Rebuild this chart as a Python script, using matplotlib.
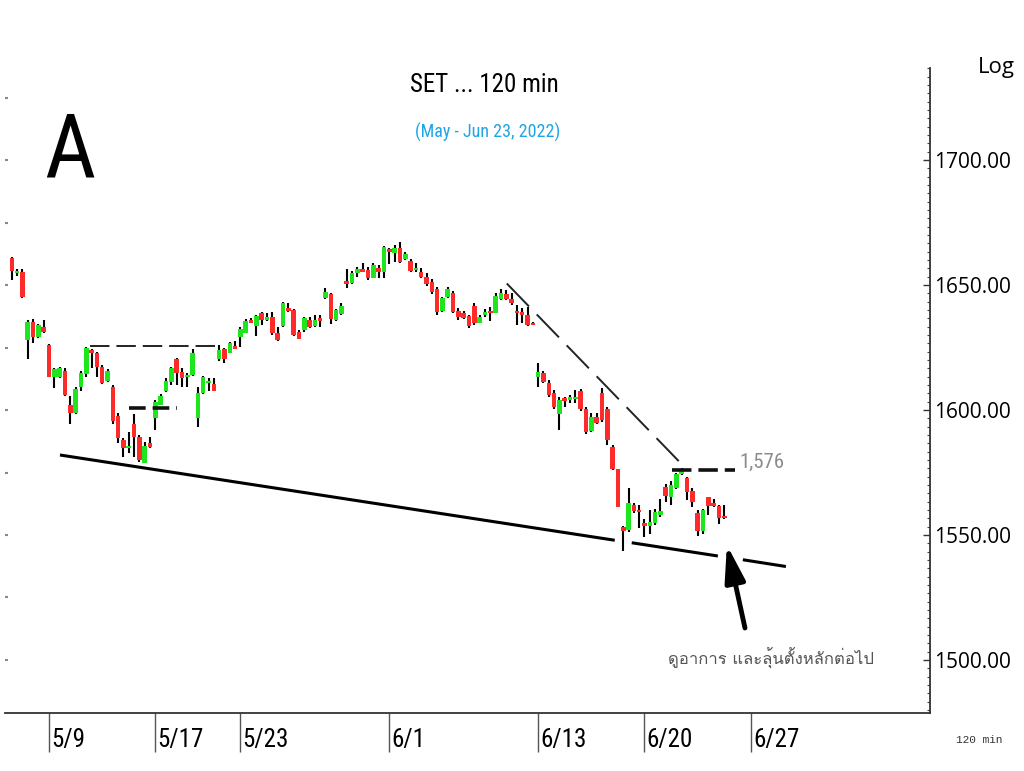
import matplotlib
matplotlib.use("Agg")
import matplotlib.pyplot as plt
from matplotlib import font_manager as fm
from matplotlib.ft2font import FT2Font
from matplotlib.ticker import FixedLocator, MultipleLocator, NullFormatter, FuncFormatter
import matplotlib.transforms as mtransforms

plt.rcParams["lines.scale_dashes"] = False

# ---------------- data (SET index, 120-min bars, 5 May - 23 Jun 2022) ----------------
opens = [1660.7, 1654.7, 1655.3, 1628.0, 1635.3, 1629.1, 1633.1, 1626.0, 1613.1, 1613.3,
         1615.7, 1602.0, 1598.7, 1609.1, 1614.4, 1624.0, 1622.7, 1617.3, 1611.7, 1609.3,
         1597.7, 1588.0, 1584.7, 1594.4, 1589.1, 1578.7, 1586.7, 1596.7, 1602.0, 1607.7,
         1611.3, 1620.3, 1615.3, 1613.1, 1614.0, 1596.7, 1606.7, 1610.9, 1610.4, 1620.3,
         1624.3, 1622.9, 1625.6, 1629.3, 1630.9, 1636.0, 1633.6, 1638.9, 1636.0, 1637.1,
         1630.7, 1633.6, 1640.9, 1640.0, 1631.1, 1632.0, 1636.0, 1633.7, 1636.7, 1644.9,
         1646.3, 1636.0, 1638.3, 1651.6, 1650.7, 1654.7, 1656.4, 1656.0, 1652.9, 1656.7,
         1655.1, 1664.4, 1662.7, 1664.9, 1660.4, 1659.6, 1656.0, 1655.3, 1653.3, 1651.2,
         1648.3, 1639.7, 1645.1, 1646.7, 1639.6, 1638.9, 1637.6, 1641.6, 1634.9, 1638.0,
         1639.3, 1638.9, 1644.3, 1646.3, 1644.3, 1639.7, 1639.3, 1638.0, 1634.9, 1613.3,
         1614.7, 1610.9, 1606.7, 1598.4, 1604.7, 1604.0, 1604.3, 1607.7, 1600.3, 1591.7,
         1597.3, 1606.7, 1600.3, 1585.3, 1576.3, 1553.1, 1552.0, 1562.0, 1560.0, 1554.9,
         1553.6, 1554.7, 1558.0, 1569.3, 1565.3, 1568.7, 1574.4, 1572.7, 1567.7, 1558.9,
         1551.7, 1565.1, 1562.7, 1561.6, 1557.3]
highs = [1661.1, 1656.4, 1656.4, 1636.0, 1636.3, 1634.4, 1636.0, 1626.4, 1616.7, 1617.3,
         1616.7, 1605.7, 1609.3, 1615.7, 1625.3, 1624.4, 1623.3, 1618.0, 1616.4, 1610.0,
         1598.7, 1588.7, 1591.3, 1598.4, 1590.0, 1587.3, 1589.3, 1604.0, 1606.4, 1612.7,
         1617.3, 1620.7, 1616.9, 1614.7, 1624.3, 1609.3, 1613.6, 1612.7, 1612.7, 1626.0,
         1624.7, 1627.3, 1627.7, 1633.1, 1636.3, 1636.7, 1638.0, 1639.3, 1638.7, 1639.3,
         1633.3, 1643.3, 1642.7, 1640.4, 1632.0, 1637.3, 1637.3, 1638.0, 1638.0, 1648.9,
         1646.7, 1640.4, 1642.7, 1656.4, 1655.6, 1657.3, 1658.7, 1657.3, 1658.7, 1658.0,
         1665.7, 1664.9, 1666.0, 1667.1, 1663.1, 1660.4, 1658.7, 1656.7, 1654.7, 1652.5,
         1649.1, 1645.3, 1649.1, 1647.7, 1640.7, 1639.7, 1638.0, 1642.9, 1638.0, 1640.3,
         1641.1, 1646.7, 1648.3, 1648.0, 1646.7, 1642.0, 1640.7, 1641.1, 1635.3, 1618.7,
         1615.7, 1612.0, 1608.0, 1605.3, 1605.3, 1606.0, 1608.0, 1608.3, 1601.1, 1598.9,
         1598.7, 1608.7, 1601.1, 1586.0, 1576.4, 1553.6, 1568.7, 1562.9, 1562.0, 1556.3,
         1560.0, 1560.3, 1564.3, 1570.4, 1571.7, 1574.9, 1576.7, 1573.1, 1568.7, 1560.0,
         1560.3, 1565.3, 1564.3, 1562.0, 1562.0]
lows = [1652.0, 1653.6, 1644.8, 1620.3, 1626.7, 1628.8, 1630.7, 1613.1, 1608.7, 1612.8,
        1605.7, 1594.4, 1598.4, 1607.7, 1613.1, 1616.7, 1613.3, 1610.4, 1611.3, 1594.4,
        1586.9, 1581.3, 1582.7, 1581.1, 1579.3, 1578.7, 1584.7, 1592.0, 1602.0, 1607.3,
        1610.0, 1610.0, 1609.3, 1609.3, 1613.6, 1593.3, 1606.4, 1607.7, 1607.6, 1619.7,
        1618.7, 1622.8, 1624.4, 1625.3, 1630.7, 1634.7, 1629.6, 1634.0, 1635.8, 1630.0,
        1627.8, 1633.3, 1639.3, 1629.7, 1628.4, 1631.1, 1632.7, 1633.3, 1633.3, 1644.4,
        1634.3, 1635.6, 1638.0, 1648.7, 1650.3, 1653.3, 1655.1, 1652.0, 1652.7, 1652.7,
        1652.9, 1658.3, 1659.1, 1658.7, 1660.0, 1655.3, 1655.1, 1652.9, 1649.6, 1646.5,
        1638.0, 1639.3, 1644.7, 1639.0, 1636.0, 1636.3, 1632.7, 1634.0, 1634.7, 1637.3,
        1635.7, 1638.7, 1644.0, 1644.0, 1642.0, 1634.0, 1634.7, 1633.6, 1633.9, 1609.3,
        1610.7, 1605.3, 1600.3, 1592.0, 1601.3, 1602.7, 1602.7, 1599.7, 1590.4, 1591.3,
        1594.4, 1595.3, 1586.0, 1576.0, 1561.2, 1543.5, 1551.3, 1558.7, 1552.7, 1549.4,
        1550.4, 1554.0, 1557.3, 1563.3, 1562.0, 1568.3, 1574.0, 1564.0, 1561.1, 1549.6,
        1550.4, 1558.0, 1561.1, 1554.4, 1556.3]
closes = [1655.7, 1655.7, 1645.1, 1635.3, 1629.1, 1634.0, 1631.1, 1613.3, 1616.4, 1616.7,
          1606.0, 1598.7, 1608.4, 1614.9, 1624.7, 1622.7, 1617.3, 1610.7, 1615.7, 1595.7,
          1588.7, 1584.7, 1585.7, 1589.1, 1580.0, 1585.7, 1585.3, 1603.3, 1605.6, 1611.6,
          1616.9, 1614.7, 1612.7, 1614.0, 1622.7, 1606.7, 1613.1, 1611.7, 1607.7, 1624.0,
          1620.3, 1626.9, 1624.5, 1632.3, 1635.6, 1634.9, 1637.6, 1636.0, 1637.3, 1630.7,
          1628.0, 1642.7, 1639.6, 1630.0, 1628.4, 1636.7, 1633.3, 1636.0, 1635.6, 1647.3,
          1636.4, 1640.0, 1641.7, 1650.3, 1654.7, 1656.4, 1655.3, 1652.9, 1658.0, 1655.3,
          1665.3, 1663.1, 1664.7, 1659.1, 1662.3, 1655.6, 1656.9, 1653.3, 1650.4, 1647.3,
          1639.3, 1644.7, 1648.3, 1639.3, 1637.3, 1636.7, 1633.6, 1634.9, 1637.1, 1639.3,
          1638.7, 1645.6, 1646.7, 1644.3, 1642.7, 1638.7, 1638.0, 1634.0, 1634.0, 1615.3,
          1611.3, 1606.0, 1601.1, 1604.0, 1603.7, 1605.3, 1605.1, 1600.3, 1591.3, 1597.3,
          1594.7, 1596.0, 1588.0, 1576.3, 1561.3, 1551.7, 1562.9, 1559.7, 1559.2, 1553.6,
          1555.3, 1559.3, 1559.7, 1565.6, 1570.0, 1574.4, 1576.0, 1567.3, 1563.3, 1551.7,
          1560.0, 1561.6, 1561.6, 1556.7, 1556.7]

date_tick_bars = [7, 27, 43, 71, 99, 119, 139]
date_tick_labels = ["5/9", "5/17", "5/23", "6/1", "6/13", "6/20", "6/27"]
price_ticks = [1500, 1550, 1600, 1650, 1700]
left_dot_ticks = [1500, 1525, 1550, 1575, 1600, 1625, 1650, 1675, 1700, 1725]

# hand-drawn annotations (bar index, price)
support_segments = [[(9.06, 1582.0), (113.4, 1547.9)],
                    [(116.6, 1546.9), (132.8, 1541.6)],
                    [(137.5, 1540.1), (145.6, 1537.4)]]
neckline_x = [14.7, 38.6]
neckline_y = [1625.7, 1625.7]
midline_x = [22.0, 31.1]
midline_y = [1600.8, 1600.8]
resist_x = [93.1, 125.6]
resist_y = [1650.6, 1579.2]
level_value = 1576
level_x = [124.1, 136.0]
level_label = "1,576"
arrow_tail = (137.9, 1512.8)
arrow_head = (134.5, 1546.0)
note_text = "ดูอาการ และลุ้นตั้งหลักต่อไป"
title_text = "SET ... 120 min"
subtitle_text = "(May - Jun 23, 2022)"

# ---------------- fonts ----------------
names = {f.name for f in fm.fontManager.ttflist}


def first_available(cands, default="DejaVu Sans"):
    for c in cands:
        if c in names:
            return c
    return default


def find_thai_family(sample):
    seen = set()
    paths = [f.fname for f in fm.fontManager.ttflist]
    try:
        paths += list(fm.findSystemFonts())
    except Exception:
        pass
    for p in paths:
        if p in seen:
            continue
        seen.add(p)
        try:
            cmap = FT2Font(p).get_charmap()
        except Exception:
            continue
        if all(ord(ch) in cmap for ch in sample if ch != " "):
            try:
                fm.fontManager.addfont(p)
                return fm.FontProperties(fname=p).get_name()
            except Exception:
                continue
    return None


narrow = first_available(["Liberation Sans Narrow", "Arial Narrow", "Roboto Condensed"], None)
if narrow is None:
    narrow_kw = dict(family="DejaVu Sans", fontstretch="condensed")
else:
    narrow_kw = dict(family=narrow)
ui_font = first_available(["Open Sans", "Noto Sans", "Lato"])
mono_font = first_available(["Liberation Mono", "DejaVu Sans Mono"])
thai = find_thai_family(note_text)
thai_families = [thai, "DejaVu Sans"] if thai else ["DejaVu Sans"]

# ---------------- figure ----------------
W, H = 1024, 771
fig = plt.figure(figsize=(W / 100, H / 100), dpi=100)
ax = fig.add_axes([5 / W, 1 - 713 / H, 925 / W, 645 / H])
ax.set_xlim(-1.28, 172.7)
ax.set_ylim(1478.8, 1736.8)

RED = "#ff2a2a"
GREEN = "#1ee61e"
idx = list(range(len(opens)))
ax.vlines(idx, lows, highs, color="black", linewidth=1.5, zorder=2)
bottoms, heights, colors = [], [], []
for o, c in zip(opens, closes):
    lo, hi = min(o, c), max(o, c)
    h = max(hi - lo, 0.8)
    bottoms.append(lo)
    heights.append(h)
    colors.append(GREEN if c > o else RED)
ax.bar(idx, heights, bottom=bottoms, width=0.86, color=colors, edgecolor="none", zorder=3)

# annotations
for seg in support_segments:
    (x0, y0), (x1, y1) = seg
    ax.plot([x0, x1], [y0, y1], color="black", linewidth=2.2, solid_capstyle="butt", zorder=4)
ax.plot(neckline_x, neckline_y, color="#222222", linewidth=1.4, dashes=(14, 5), zorder=4)
ax.plot(midline_x, midline_y, color="#111111", linewidth=2.6, dashes=(12, 5), zorder=4)
ax.plot(resist_x, resist_y, color="#222222", linewidth=1.4, dashes=(23, 8), zorder=4)
ax.plot(level_x, [level_value, level_value], color="#111111", linewidth=2.6, dashes=(14, 5), zorder=4)
ax.text(level_x[1] + 0.9, level_value + 3.0, level_label, color="#8c8c8c", fontsize=15,
        ha="left", va="center", **narrow_kw)
ax.annotate("", xy=arrow_head, xytext=arrow_tail,
            arrowprops=dict(arrowstyle="-|>,head_length=1.0,head_width=0.28", color="black",
                            lw=3.5, shrinkA=0, shrinkB=0, mutation_scale=22))
ax.text(142.8, 1500.5, note_text, color="#555555", fontsize=12, ha="center", va="center",
        family=thai_families)

# spines
for s in ["top", "left"]:
    ax.spines[s].set_visible(False)
ax.spines["bottom"].set_color("#333333")
ax.spines["right"].set_color("#333333")
ax.spines["bottom"].set_linewidth(1.3)
ax.spines["right"].set_linewidth(1.3)

# y axis on right
ax.yaxis.tick_right()
ax.yaxis.set_major_locator(FixedLocator(price_ticks))
ax.yaxis.set_major_formatter(FuncFormatter(lambda v, p: f"{v:.2f}"))
ax.yaxis.set_minor_locator(MultipleLocator(50 / 15))
ax.tick_params(axis="y", which="major", direction="in", length=5, width=1, color="#333333",
               pad=3, labelsize=15)
ax.tick_params(axis="y", which="minor", direction="in", length=2.5, width=0.8, color="#444444")
for lab in ax.get_yticklabels():
    lab.set_family(ui_font)

# left faint tick dots
sec = ax.secondary_yaxis("left")
sec.set_yticks(left_dot_ticks)
sec.yaxis.set_major_formatter(NullFormatter())
sec.tick_params(axis="y", direction="in", length=2, width=1.5, color="#888888")
sec.spines["left"].set_visible(False)

# x axis
ax.xaxis.set_major_locator(FixedLocator(date_tick_bars))
ax.xaxis.set_major_formatter(NullFormatter())
ax.tick_params(axis="x", which="major", direction="out", length=28, width=1, color="#555555")
lab_tr = mtransforms.offset_copy(ax.get_xaxis_transform(), fig=fig, x=1.5, y=-19.5, units="points")
for b, t in zip(date_tick_bars, date_tick_labels):
    ax.text(b, 0, t, transform=lab_tr, ha="left", va="center", fontsize=18, color="black",
            clip_on=False, **narrow_kw)

# titles and labels
fig.text(484 / W, 1 - 85 / H, title_text, ha="center", va="center", fontsize=18, color="black", **narrow_kw)
fig.text(488 / W, 1 - 132 / H, subtitle_text, ha="center", va="center", fontsize=13, color="#1ea5e6",
         **narrow_kw)
fig.text(70 / W, 1 - 153 / H, "A", ha="center", va="center", fontsize=64, color="black", **narrow_kw)
fig.text(996 / W, 1 - 67 / H, "Log", ha="center", va="center", fontsize=16, color="black", family=ui_font)
fig.text(979 / W, 1 - 740 / H, "120 min", ha="center", va="center", fontsize=8, color="#333333",
         family=mono_font)

fig.savefig("out.png", dpi=100)
